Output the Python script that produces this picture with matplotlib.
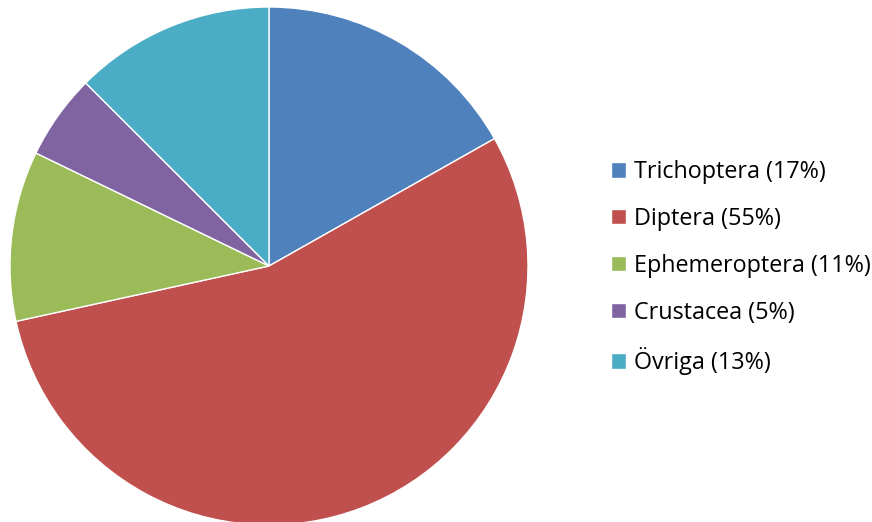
import matplotlib
matplotlib.use("Agg")
import matplotlib.pyplot as plt

# Invertebrate groups and their shares (%)
groups = ["Trichoptera", "Diptera", "Ephemeroptera", "Crustacea", "Övriga"]
shares = [16.8, 54.7, 10.6, 5.3, 12.5]
pct_labels = ["17%", "55%", "11%", "5%", "13%"]
colors = ["#4F81BD", "#C0504D", "#9BBB59", "#8064A2", "#4BACC6"]

plt.rcParams["font.family"] = ["Open Sans", "DejaVu Sans"]

fig = plt.figure(figsize=(8.72, 5.22), dpi=100)
# pie box: centre ~ (269, 266) px, radius ~259 px
ax = fig.add_axes([10 / 872, (256 - 259) / 522, 518 / 872, 518 / 522])
wedges, _ = ax.pie(shares, colors=colors, startangle=90, counterclock=False,
                   radius=1.0, wedgeprops=dict(edgecolor="white", linewidth=1.0))
ax.set_xlim(-1, 1)
ax.set_ylim(-1, 1)
ax.set_aspect("equal")
ax.axis("off")

labels = [f"{g} ({p})" for g, p in zip(groups, pct_labels)]
fig.legend(wedges, labels, loc="upper left", bbox_to_anchor=(611 / 872, 1 - 160 / 522),
           frameon=False, fontsize=16.8, handlelength=0.65, handleheight=0.65,
           handletextpad=0.33, labelspacing=0.98, borderaxespad=0, borderpad=0)

fig.savefig("out.png", dpi=100)
